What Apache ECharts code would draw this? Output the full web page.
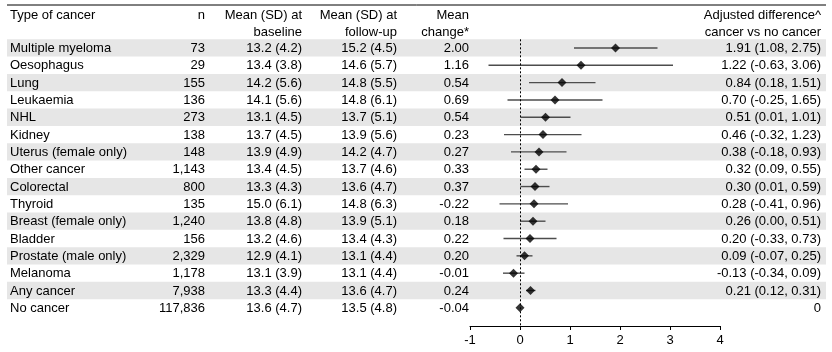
<!DOCTYPE html>
<html>
<head>
<meta charset="utf-8">
<script src="https://cdn.jsdelivr.net/npm/echarts@6/dist/echarts.min.js"></script>
<style>
  html, body {margin: 0; padding: 0; background: #fff;}
  #chart {width: 832px; height: 352px;}
</style>
</head>
<body>
<div id="chart"></div>
<script>
const cancers = ['Multiple myeloma', 'Oesophagus', 'Lung', 'Leukaemia', 'NHL', 'Kidney',
  'Uterus (female only)', 'Other cancer', 'Colorectal', 'Thyroid', 'Breast (female only)',
  'Bladder', 'Prostate (male only)', 'Melanoma', 'Any cancer', 'No cancer'];
const nPeople = [73, 29, 155, 136, 273, 138, 148, 1143, 800, 135, 1240, 156, 2329, 1178, 7938, 117836];
const baseMean = [13.2, 13.4, 14.2, 14.1, 13.1, 13.7, 13.9, 13.4, 13.3, 15.0, 13.8, 13.2, 12.9, 13.1, 13.3, 13.6];
const baseSd = [4.2, 3.8, 5.6, 5.6, 4.5, 4.5, 4.9, 4.5, 4.3, 6.1, 4.8, 4.6, 4.1, 3.9, 4.4, 4.7];
const followMean = [15.2, 14.6, 14.8, 14.8, 13.7, 13.9, 14.2, 13.7, 13.6, 14.8, 13.9, 13.4, 13.1, 13.1, 13.6, 13.5];
const followSd = [4.5, 5.7, 5.5, 6.1, 5.1, 5.6, 4.7, 4.6, 4.7, 6.3, 5.1, 4.3, 4.4, 4.4, 4.7, 4.8];
const meanChange = [2.00, 1.16, 0.54, 0.69, 0.54, 0.23, 0.27, 0.33, 0.37, -0.22, 0.18, 0.22, 0.20, -0.01, 0.24, -0.04];
const adjEst = [1.91, 1.22, 0.84, 0.70, 0.51, 0.46, 0.38, 0.32, 0.30, 0.28, 0.26, 0.20, 0.09, -0.13, 0.21, 0];
const adjLo = [1.08, -0.63, 0.18, -0.25, 0.01, -0.32, -0.18, 0.09, 0.01, -0.41, 0.00, -0.33, -0.07, -0.34, 0.12, null];
const adjHi = [2.75, 3.06, 1.51, 1.65, 1.01, 1.23, 0.93, 0.55, 0.59, 0.96, 0.51, 0.73, 0.25, 0.09, 0.31, null];
const xTicks = [-1, 0, 1, 2, 3, 4];

const font = '"Liberation Sans", Arial, sans-serif';
const fmtN = (v) => v.toLocaleString('en-US');
const f1 = (v) => v.toFixed(1);
const f2 = (v) => v.toFixed(2);

const rows = cancers.map((c, i) => [i + 1, c,
  fmtN(nPeople[i]),
  f1(baseMean[i]) + ' (' + f1(baseSd[i]) + ')',
  f1(followMean[i]) + ' (' + f1(followSd[i]) + ')',
  f2(meanChange[i]),
  adjLo[i] == null ? '0' : f2(adjEst[i]) + ' (' + f2(adjLo[i]) + ', ' + f2(adjHi[i]) + ')'
]);

// column anchors: [x, align]
const cols = [[10, 'left'], [205, 'right'], [302, 'right'], [397, 'right'], [469, 'right'], [821, 'right']];
const header1 = ['Type of cancer', 'n', 'Mean (SD) at', 'Mean (SD) at', 'Mean', 'Adjusted difference^'];
const header2 = ['', '', 'baseline', 'follow-up', 'change*', 'cancer vs no cancer'];

const txt = (x, y, s, align) => ({
  type: 'text',
  style: {x: x, y: y, text: s, align: align, verticalAlign: 'middle',
    fontSize: 13, fontFamily: font, fill: '#000'}
});

const chart = echarts.init(document.getElementById('chart'));
chart.setOption({
  animation: false,
  grid: {left: 470, right: 112, top: 39.3, bottom: 26},
  xAxis: {
    type: 'value', min: -1, max: 4, interval: 1,
    axisLine: {show: true, lineStyle: {color: '#000', width: 1}},
    axisTick: {show: true, inside: false, length: 4, lineStyle: {color: '#000'}},
    axisLabel: {fontSize: 13, fontFamily: font, color: '#000', margin: 8,
      customValues: xTicks},
    splitLine: {show: false}
  },
  yAxis: {type: 'value', inverse: true, min: 0.5, max: 17.05, show: false},
  graphic: [
    {type: 'line', shape: {x1: 7, y1: 5, x2: 826, y2: 5}, style: {stroke: '#000', lineWidth: 1}},
    ...header1.map((h, j) => txt(cols[j][0], 15, h, cols[j][1])),
    ...header2.map((h, j) => txt(cols[j][0], 32, h, cols[j][1]))
  ],
  series: [
    {
      type: 'custom', z: 1, clip: false,
      data: rows,
      encode: {y: 0},
      renderItem: (params, api) => {
        const r = rows[params.dataIndex];
        const yc = api.coord([0, r[0]])[1];
        const h = api.size([0, 1])[1];
        const children = [];
        if (params.dataIndex % 2 === 0) {
          children.push({type: 'rect', shape: {x: 7, y: yc - h / 2, width: 819, height: h},
            style: {fill: '#e6e6e6'}});
        }
        for (let j = 0; j < 6; j++) children.push(txt(cols[j][0], yc + 0.5, r[j + 1], cols[j][1]));
        return {type: 'group', children: children};
      }
    },
    {
      type: 'custom', z: 3,
      data: adjLo.map((lo, i) => [lo, adjHi[i], i + 1]).filter(d => d[0] != null),
      encode: {x: [0, 1], y: 2},
      renderItem: (params, api) => {
        const a = api.coord([api.value(0), api.value(2)]);
        const b = api.coord([api.value(1), api.value(2)]);
        return {type: 'line', shape: {x1: a[0], y1: a[1], x2: b[0], y2: b[1]},
          style: {stroke: '#4d4d4d', lineWidth: 1.4}};
      }
    },
    {
      type: 'scatter', z: 4,
      symbol: 'diamond', symbolSize: [9, 9],
      itemStyle: {color: '#000'},
      data: adjEst.map((v, i) => [v, i + 1]),
      markLine: {
        silent: true, symbol: 'none', label: {show: false},
        lineStyle: {color: '#000', type: [2, 2], width: 1},
        data: [{xAxis: 0}]
      }
    }
  ]
});
</script>
</body>
</html>
